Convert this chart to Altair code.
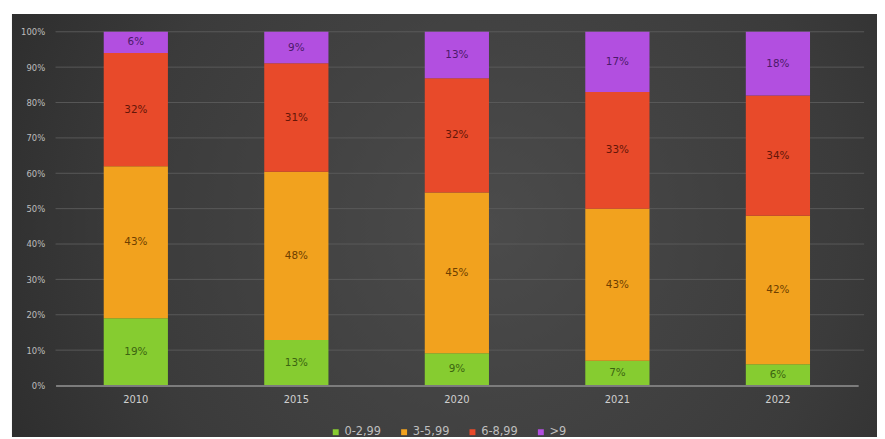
import altair as alt
import pandas as pd

years = ["2010", "2015", "2020", "2021", "2022"]
series = ["0-2,99", "3-5,99", "6-8,99", ">9"]
v_0_3 = [19, 13, 9, 7, 6]
v_3_6 = [43, 48, 45, 43, 42]
v_6_9 = [32, 31, 32, 33, 34]
v_9 = [6, 9, 13, 17, 18]
ticks = [0, 0.1, 0.2, 0.3, 0.4, 0.5, 0.6, 0.7, 0.8, 0.9, 1.0]
bar_colors = ["#86cc30", "#f2a21e", "#e84a2a", "#b24fe0"]
text_colors = ["#3c6410", "#6e3f00", "#641608", "#4c1a6a"]

rows = []
for si, (name, vals) in enumerate(zip(series, [v_0_3, v_3_6, v_6_9, v_9])):
    for y, v in zip(years, vals):
        rows.append({"year": y, "series": name, "value": v, "ord": si, "tcolor": text_colors[si]})
df = pd.DataFrame(rows)

W, H = 810, 357

yaxis = alt.Axis(values=ticks, format=".0%", domain=False, ticks=False,
                 labelColor="#bdbdbd", labelFontSize=8.5, labelPadding=11,
                 labelOverlap=False, grid=False, zindex=1)
yscale = alt.Scale(domain=[0, 1])

bg = alt.Chart(pd.DataFrame({"a": [0]})).mark_rect(
    color=alt.RadialGradient(
        gradient="radial", x1=0.55, y1=0.5, x2=0.55, y2=0.5, r1=0, r2=0.75,
        stops=[alt.GradientStop(offset=0, color="#4b4b4b"),
               alt.GradientStop(offset=0.55, color="#3b3b3b"),
               alt.GradientStop(offset=1, color="#242424")]
    )
).encode(x=alt.value(-44), x2=alt.value(W + 19), y=alt.value(-18), y2=alt.value(H + 52))

grid = alt.Chart(pd.DataFrame({"t": ticks[1:]})).mark_rule(
    color="#5c5c5c", strokeWidth=1, opacity=0.9
).encode(y=alt.Y("t:Q", title=None, axis=yaxis, scale=yscale), x=alt.value(0), x2=alt.value(W + 6))

xenc = alt.X("year:N", sort=years, title=None,
             scale=alt.Scale(paddingInner=0.6, paddingOuter=0.3),
             axis=alt.Axis(labelAngle=0, ticks=False, labelColor="#cfcfcf", labelFontSize=10,
                           labelPadding=9, domainColor="#7c7c7c", domainWidth=2, grid=False,
                           zindex=1))

base = alt.Chart(df)

bars = base.mark_bar().encode(
    x=xenc,
    y=alt.Y("value:Q", stack="normalize", title=None, scale=yscale, axis=yaxis),
    color=alt.Color("series:N", scale=alt.Scale(domain=series, range=bar_colors),
                    legend=alt.Legend(title=None, orient="none", legendX=277, legendY=398,
                                      direction="horizontal", symbolType="square", symbolSize=36,
                                      symbolStrokeWidth=0, labelColor="#bfbfbf", labelFontSize=11.5,
                                      columnPadding=17, labelOffset=3)),
    order=alt.Order("ord:Q"),
)

labels = base.transform_stack(
    stack="value", groupby=["year"], as_=["v0", "v1"], offset="normalize",
    sort=[alt.SortField("ord", order="ascending")]
).transform_calculate(
    mid="(datum.v0 + datum.v1) / 2", label="datum.value + '%'"
).mark_text(fontSize=10.5).encode(
    x=alt.X("year:N", sort=years),
    y=alt.Y("mid:Q", title=None, scale=yscale, axis=yaxis),
    text="label:N",
    color=alt.Color("tcolor:N", scale=None, legend=None),
)

chart = alt.layer(bg, grid, bars, labels).resolve_scale(color="independent").properties(
    width=W, height=H, padding={"left": 4, "top": 4, "right": 0, "bottom": 0}
).configure(background="white", font="DejaVu Sans").configure_view(stroke=None)

chart.save("out.html", embed_options={"renderer": "svg", "actions": False})
